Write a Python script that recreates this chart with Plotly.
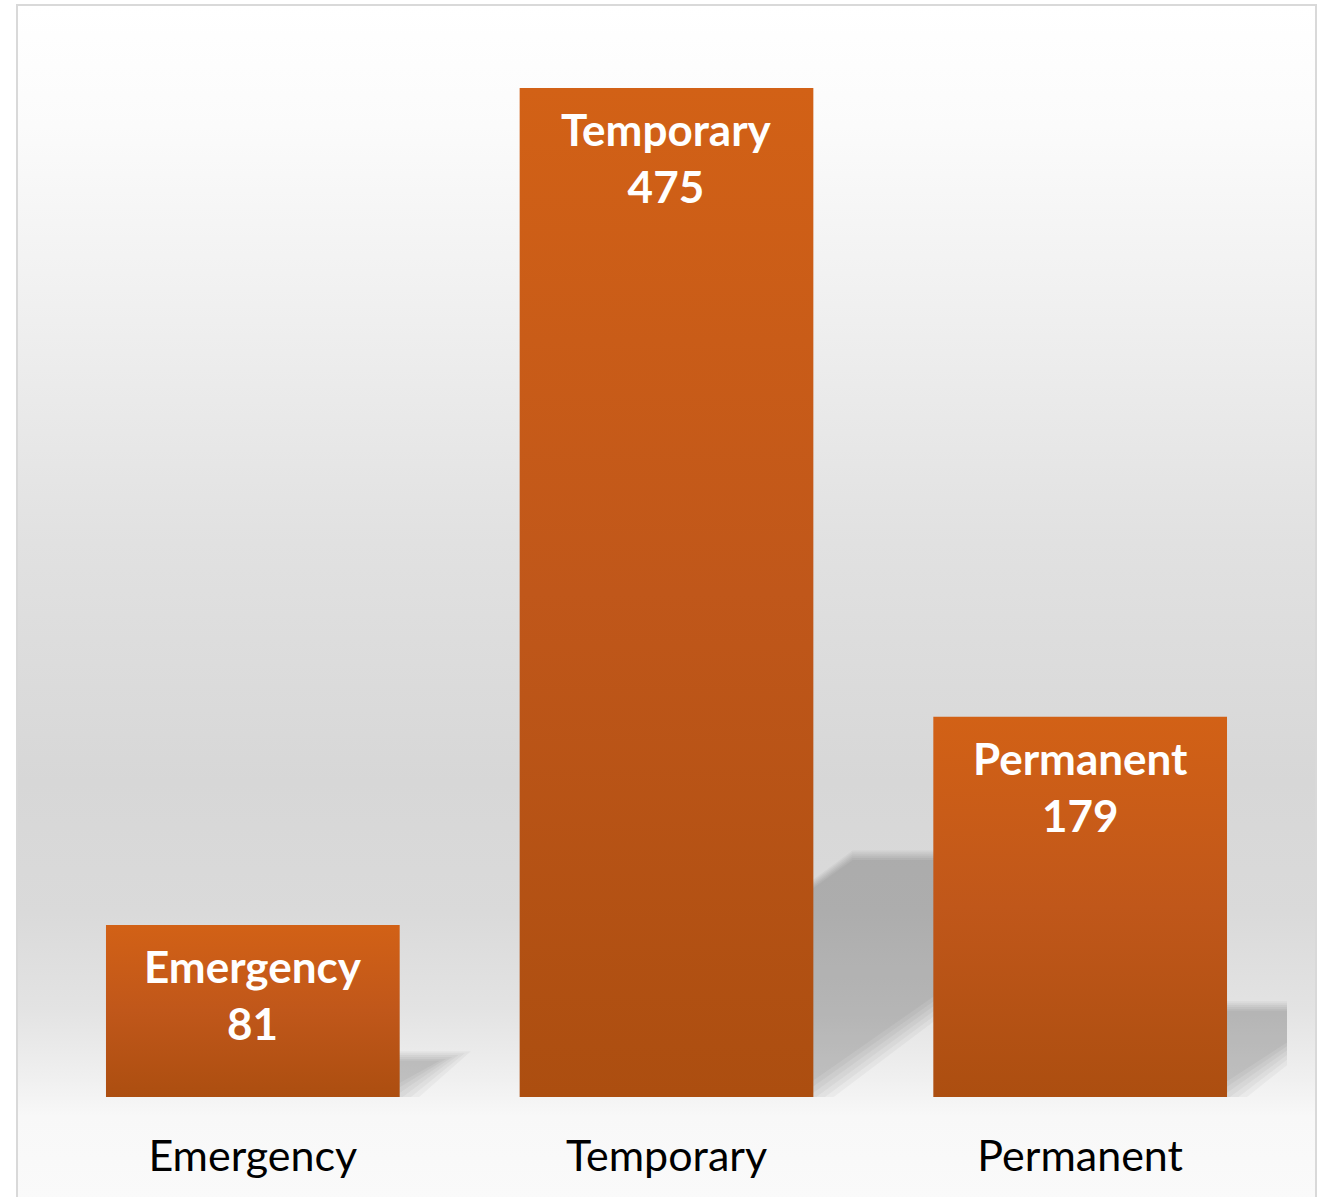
import base64
import plotly.graph_objects as go

categories = ["Emergency", "Temporary", "Permanent"]
values = [81, 475, 179]

# figure geometry
W, H = 1324, 1197
ML, MR, MT, MB = 46, 37, 35, 100
PW, PH = W - ML - MR, H - MT - MB
YMAX = 500
BAR_W = 0.71

bar_scale = [[0, "#AC4E10"], [0.5, "#C0571A"], [1, "#D26116"]]

# shadow shear: fraction of bar height (in px) moved right / up
SH_X, SH_Y = 0.33, 0.24

fig = go.Figure()

px_x = PW / len(categories)
px_y = PH / YMAX

# soft shadows behind the bars (stacked layers fake a blur)
blur = [0.035, 0.02, 0.005, -0.01, -0.025, -0.04]
for i, v in enumerate(values):
    l, r = i - BAR_W / 2, i + BAR_W / 2
    dy = SH_Y * v
    dx = SH_X * v * px_y / px_x
    for g in blur:
        fig.add_trace(go.Scatter(
            x=[l, r + g, r + dx + g, l + dx, l],
            y=[0, 0 - g * 60, dy + g * 60, dy + g * 60, 0],
            mode="lines", fill="toself", line=dict(width=0),
            fillcolor="rgba(0,0,0,0.035)",
            hoverinfo="skip", showlegend=False,
        ))

# bars with vertical gradient
for i, (c, v) in enumerate(zip(categories, values)):
    l, r = i - BAR_W / 2, i + BAR_W / 2
    fig.add_trace(go.Scatter(
        x=[l, r, r, l, l], y=[0, 0, v, v, 0],
        mode="lines", fill="toself", line=dict(width=0),
        fillgradient=dict(type="vertical", colorscale=bar_scale),
        name=c, hovertemplate=c + ": %{text}<extra></extra>",
        text=[v] * 5, showlegend=False,
    ))
    fig.add_annotation(
        x=i, y=v, yanchor="top", yshift=-13, showarrow=False,
        text="<b>%s<br>%d</b>" % (c, v),
        font=dict(family="Lato", size=44, color="white"),
    )

# page background: gradient inside a light grey frame
bx0, bx1, by0, by1 = 18, 1315, 6, 1200
svg = (
    '<svg xmlns="http://www.w3.org/2000/svg" width="100" height="100" preserveAspectRatio="none">'
    '<defs><linearGradient id="g" x1="0" y1="0" x2="0" y2="1">'
    '<stop offset="0" stop-color="#FFFFFF"/>'
    '<stop offset="0.1" stop-color="#FBFBFB"/>'
    '<stop offset="0.25" stop-color="#F0F0F0"/>'
    '<stop offset="0.45" stop-color="#E1E1E1"/>'
    '<stop offset="0.65" stop-color="#D7D7D7"/>'
    '<stop offset="0.76" stop-color="#DADADA"/>'
    '<stop offset="0.84" stop-color="#E3E3E3"/>'
    '<stop offset="0.9" stop-color="#F0F0F0"/>'
    '<stop offset="0.93" stop-color="#F8F8F8"/>'
    '<stop offset="1" stop-color="#FAFAFA"/>'
    '</linearGradient></defs>'
    '<rect width="100" height="100" fill="url(#g)"/></svg>'
)
src = "data:image/svg+xml;base64," + base64.b64encode(svg.encode()).decode()


def px2paper_x(px):
    return (px - ML) / PW


def px2paper_y(py):
    return 1 - (py - MT) / PH


fig.add_layout_image(
    source=src, xref="paper", yref="paper",
    x=px2paper_x(bx0), y=px2paper_y(by0),
    sizex=(bx1 - bx0) / PW, sizey=(by1 - by0) / PH,
    xanchor="left", yanchor="top", sizing="stretch", layer="below",
)
fig.add_shape(
    type="rect", xref="paper", yref="paper",
    x0=px2paper_x(bx0 - 1), x1=px2paper_x(bx1 + 1),
    y0=px2paper_y(by1), y1=px2paper_y(by0 - 1),
    line=dict(color="#D9D9D9", width=2), fillcolor="rgba(0,0,0,0)", layer="below",
)

fig.update_layout(
    width=W, height=H,
    margin=dict(l=ML, r=MR, t=MT, b=MB),
    paper_bgcolor="white", plot_bgcolor="rgba(0,0,0,0)",
    showlegend=False,
    xaxis=dict(
        range=[-0.5, len(categories) - 0.5],
        tickvals=list(range(len(categories))), ticktext=categories,
        showgrid=False, zeroline=False, showline=False, ticks="",
        ticklabelstandoff=30,
        tickfont=dict(family="Lato", size=43, color="black"),
    ),
    yaxis=dict(range=[0, YMAX], visible=False, showgrid=False),
)

# drop the browser's default page margin so the figure sits at (0, 0)
fig.write_html(
    "out.html",
    config={"displayModeBar": False},
    post_script="document.body.style.margin='0';",
)
